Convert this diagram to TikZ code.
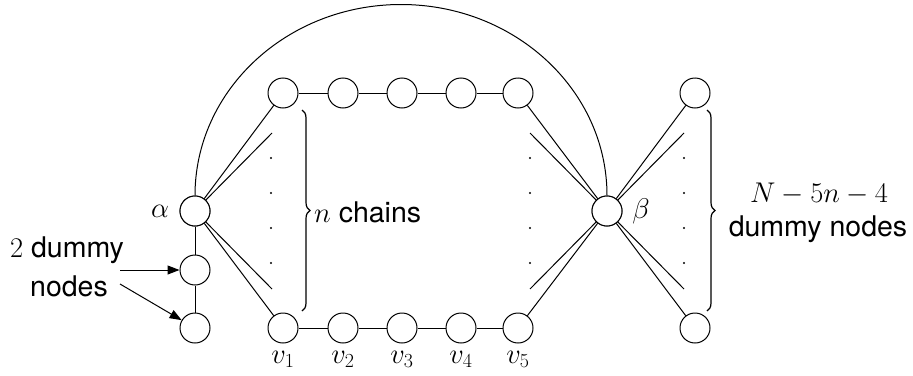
\documentclass[tikz,border=0pt]{standalone}
\usepackage{fix-cm}
\usepackage{fontspec}
\setmainfont{TeX Gyre Heros}
\usetikzlibrary{decorations.pathreplacing,arrows.meta}
\begin{document}
\begin{tikzpicture}[x=1pt,y=-1pt,
  vert/.style={circle,draw,line width=1pt,minimum size=30pt,inner sep=0pt,fill=white},
  edge/.style={line width=1pt},
  lab/.style={font=\fontsize{28.5}{34}\selectfont,inner sep=0pt},
  dotc/.style={circle,fill=black,inner sep=0pt,minimum size=2.4pt},
  brc/.style={decorate,decoration={brace,amplitude=8pt},line width=1.2pt}]
\useasboundingbox (0,0) rectangle (913,375);
% nodes
\node[vert] (a) at (195,211) {};
\node[vert] (b) at (607,211) {};
\node[vert] (d1) at (195,270) {};
\node[vert] (d2) at (195,328) {};
\foreach \i/\x in {1/283,2/343,3/402,4/461,5/518}{
  \node[vert] (t\i) at (\x,93) {};
  \node[vert] (v\i) at (\x,328) {};
}
\node[vert] (r1) at (695,93) {};
\node[vert] (r2) at (695,328) {};
% partial line ends
\coordinate (pa1) at (272,133);
\coordinate (pa2) at (272,289);
\coordinate (pb1) at (530,133);
\coordinate (pb2) at (530,289);
\coordinate (pc1) at (684,133);
\coordinate (pc2) at (684,289);
% edges
\draw[edge] (t1)--(t2)--(t3)--(t4)--(t5);
\draw[edge] (v1)--(v2)--(v3)--(v4)--(v5);
\draw[edge] (a)--(d1)--(d2);
\draw[edge] (a)--(t1);
\draw[edge] (a)--(v1);
\draw[edge] (a)--(pa1);
\draw[edge] (a)--(pa2);
\draw[edge] (b)--(t5);
\draw[edge] (b)--(v5);
\draw[edge] (b)--(pb1);
\draw[edge] (b)--(pb2);
\draw[edge] (b)--(r1);
\draw[edge] (b)--(r2);
\draw[edge] (b)--(pc1);
\draw[edge] (b)--(pc2);
\draw[edge] (a.north) arc[start angle=180,end angle=360,x radius=206,y radius=191];
% redraw nodes on top
\foreach \n in {a,b}{\node[vert] at (\n) {};}
% dots
\foreach \x/\k in {271/a,530/b,684/c}{
  \foreach \y/\j in {158/1,193/2,228/3,263/4}{
    \node[dotc] (dot\k\j) at (\x,\y) {};
  }
}
% braces
\coordinate (bra1) at (302,110);
\coordinate (bra2) at (302,311);
\draw[brc] (bra1) -- (bra2);
\coordinate (brb1) at (707,110);
\coordinate (brb2) at (707,311);
\draw[brc] (brb1) -- (brb2);
% labels
\node[lab] (la) at (160,211) {$\alpha$};
\node[lab] (lb) at (641,211) {$\beta$};
\foreach \i/\x in {1/283,2/343,3/402,4/461,5/518}{
  \node[lab,anchor=north] (lv\i) at (\x,351) {$v_{\i}$};
}
\node[lab,anchor=west] (nch) at (314,212) {$n$ chains};
\node[lab] (nn) at (819,194) {$N-5n-4$};
\node[lab] (dn) at (818,229) {dummy nodes};
\node[lab] (two) at (67,250) {$2$ dummy};
\node[lab] (nod) at (69,286) {nodes};
% arrows
\coordinate (ar1) at (120,270);
\coordinate (ar2) at (120,284);
\draw[edge,-{Triangle[length=12pt,width=9pt]}] (ar1) -- (d1);
\draw[edge,-{Triangle[length=12pt,width=9pt]}] (ar2) -- (d2);
\end{tikzpicture}
\end{document}
